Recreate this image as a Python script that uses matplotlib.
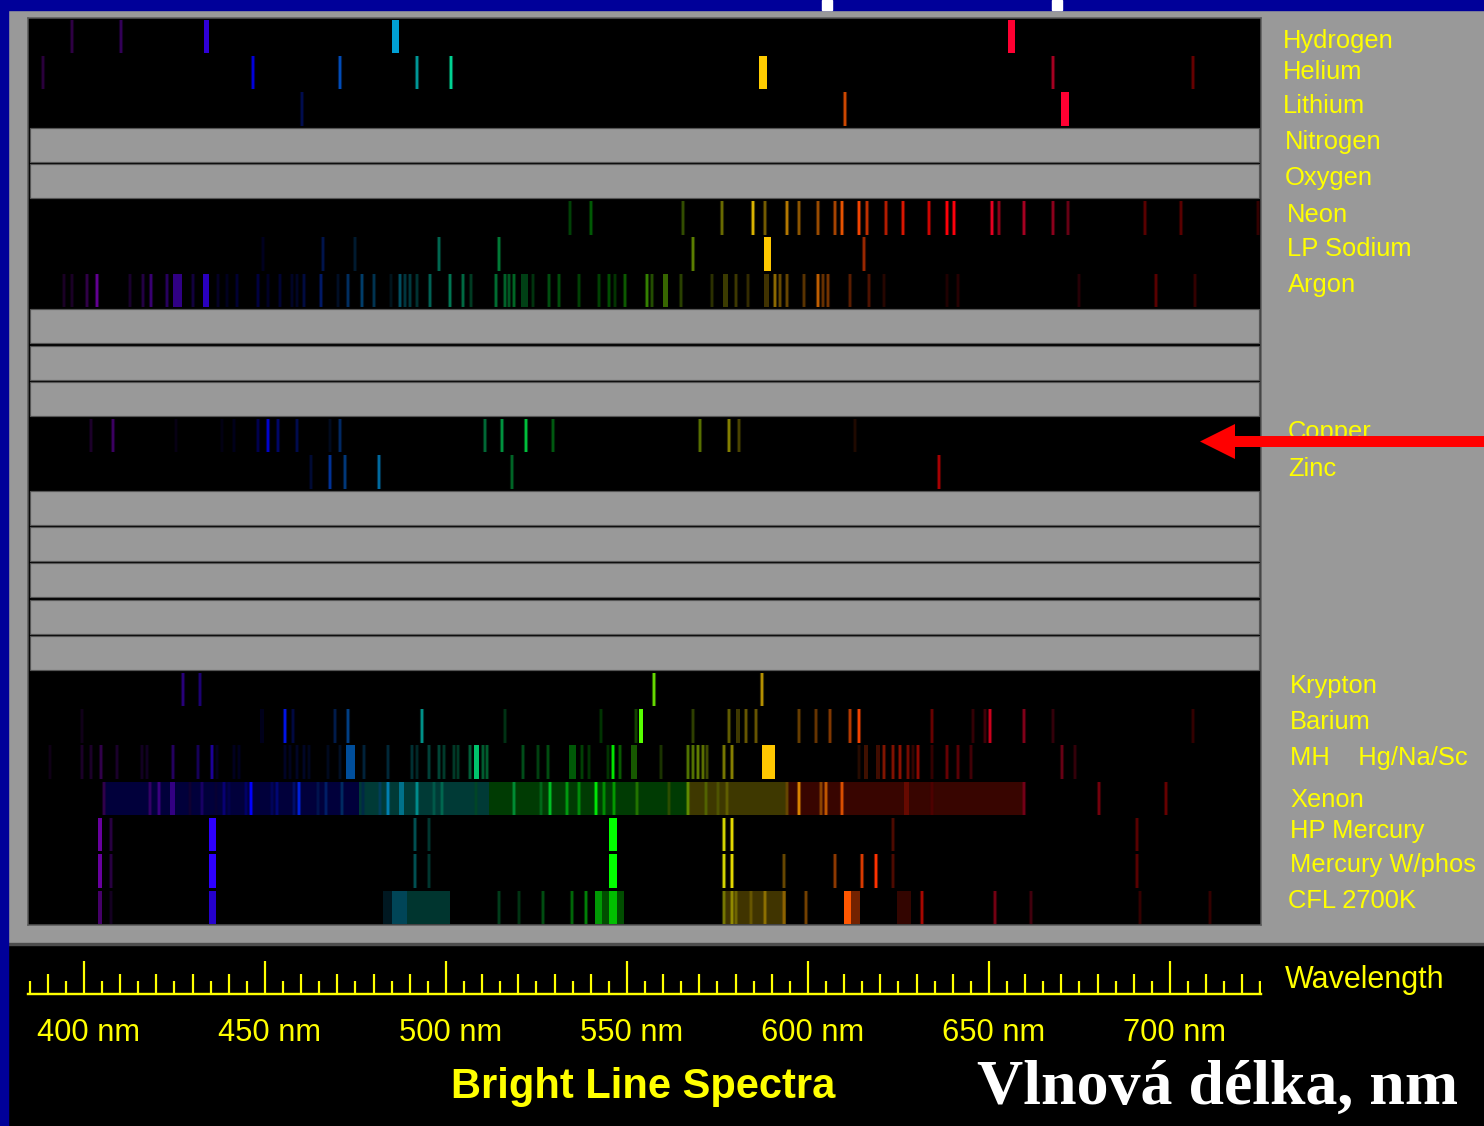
import numpy as np
import matplotlib
matplotlib.use("Agg")
import matplotlib.pyplot as plt
from matplotlib.patches import FancyArrow, Rectangle
from matplotlib.ticker import FixedLocator
from matplotlib.transforms import ScaledTranslation

W, H = 1484, 1126
DPI = 100

# spectrum rows from top to bottom, "" is an unlabelled empty row
row_names = ["Hydrogen", "Helium", "Lithium", "Nitrogen", "Oxygen", "Neon", "LP Sodium", "Argon",
             "", "", "", "Copper", "Zinc", "", "", "", "", "",
             "Krypton", "Barium", "MH", "Xenon", "HP Mercury", "Mercury W/phos", "CFL 2700K"]

# (wavelength nm, intensity) for thin lines, (from nm, to nm, intensity) for wide ones
hydrogen_lines = [(396.6, .35), (410.1, .4)]
hydrogen_bands = [(433.1, 434.4, .85), (485.0, 487.1, .97), (655.3, 657.2, 1)]
helium_lines = [(388.6, .35), (446.7, .85), (470.7, .75), (492.0, .75), (501.4, .9), (667.6, .65), (706.3, .4)]
helium_bands = [(586.5, 588.6, 1)]
lithium_lines = [(460.1, .3), (610.2, .8)]
lithium_bands = [(670.0, 672.0, 1)]
neon_lines = [(534.2, .25), (540.1, .35), (565.4, .3), (576.2, .45), (584.8, .85), (588.1, .45), (594.2, .7),
              (597.5, .55), (602.9, .6), (607.5, .65), (609.5, .9), (614.1, .95), (616.2, .75), (621.6, .7),
              (626.2, .85), (633.5, .8), (638.3, 1), (640.2, 1), (650.9, .9), (652.9, .55), (659.6, .65),
              (667.6, .55), (671.7, .4), (693.0, .35), (703.0, .35), (724.3, .2)]
sodium_lines = [(449.4, .12), (466.1, .3), (474.9, .2), (498.1, .45), (514.7, .5), (568.1, .5), (615.5, .6)]
sodium_bands = [(587.9, 589.8, 1)]
argon_lines = [(394.6, .2), (396.6, .2), (400.7, .35), (403.7, .7), (412.7, .2), (416.4, .3), (418.4, .5),
               (423.0, .4), (430.0, .25), (437.0, .15), (439.5, .12), (442.3, .2), (448.1, .25), (450.8, .15),
               (454.1, .2), (457.4, .15), (458.8, .15), (460.8, .25), (465.4, .4), (470.2, .15), (472.9, .4),
               (476.8, .45), (480.1, .35), (484.8, .12), (487.4, .45), (488.8, .3), (490.1, .3), (492.1, .25),
               (495.6, .45), (501.1, .5), (504.8, .45), (506.8, .25), (513.7, .45), (516.2, .4), (517.4, .35),
               (518.8, .4), (524.0, .2), (528.5, .3), (531.2, .3), (536.8, .25), (542.2, .25), (545.1, .3),
               (546.8, .2), (549.4, .35), (555.5, .5), (556.9, .3), (564.9, .25), (573.4, .2), (580.2, .25),
               (583.5, .2), (590.8, .55), (592.2, .4), (594.2, .4), (598.8, .35), (602.9, .75), (604.2, .4),
               (605.5, .45), (611.6, .35), (616.9, .3), (620.9, .15), (638.3, .12), (641.5, .15), (674.9, .15),
               (696.2, .35), (707.0, .2)]
argon_bands = [(424.5, 427.0, .55), (432.8, 434.4, .75), (520.6, 522.6, .25), (560.0, 561.3, .4),
               (576.5, 577.8, .25), (587.9, 589.2, .25)]
copper_lines = [(402.0, .2), (408.0, .45), (425.3, .08), (438.0, .07), (441.4, .1), (448.1, .3), (450.8, .8),
                (453.6, .4), (458.8, .3), (468.0, .12), (470.6, .4), (510.7, .45), (515.5, .6), (522.1, .75),
                (529.5, .35), (570.1, .45), (578.1, .55), (580.9, .3), (612.9, .12)]
zinc_lines = [(462.7, .2), (468.0, .6), (472.1, .5), (481.4, .7), (518.1, .4), (636.2, .65)]
krypton_lines = [(427.4, .5), (432.1, .45), (557.4, .85), (587.4, .7)]
barium_lines = [(399.4, .12), (455.5, .9), (457.8, .25), (469.4, .3), (472.8, .55), (493.4, .7), (516.2, .2),
                (542.8, .2), (552.5, .25), (568.1, .25), (578.2, .4), (582.9, .4), (585.5, .4), (597.5, .4),
                (602.2, .4), (606.1, .5), (611.6, .7), (614.1, .95), (634.2, .4), (645.6, .2), (649.0, .25),
                (650.2, .8), (659.6, .5), (667.6, .2), (706.3, .2)]
barium_bands = [(448.6, 449.8, .1), (553.2, 554.5, 1), (580.0, 581.2, .25)]
mh_lines = [(390.7, .12), (399.4, .2), (402.0, .2), (404.6, .35), (409.0, .2), (416.0, .15), (417.4, .15),
            (424.7, .4), (431.6, .35), (435.3, .6), (436.7, .12), (441.3, .12), (442.8, .12), (455.5, .15),
            (456.9, .12), (458.9, .15), (460.8, .15), (462.2, .12), (467.3, .12), (470.7, .15), (477.4, .25),
            (484.0, .25), (490.7, .25), (492.1, .2), (495.4, .3), (498.1, .3), (499.5, .25), (502.1, .25),
            (503.4, .25), (506.5, .4), (510.1, .4), (511.4, .4), (521.2, .3), (525.5, .25), (528.2, .3),
            (537.5, .25), (539.5, .2), (544.8, .2), (546.2, .9), (548.2, .35), (559.5, .2), (566.8, .45),
            (568.1, .45), (569.5, .5), (570.9, .45), (572.0, .3), (576.8, .5), (578.9, .55), (614.1, .15),
            (620.9, .5), (623.6, .5), (625.4, .55), (627.6, .45), (628.9, .2), (630.3, .55), (634.3, .2),
            (638.3, .4), (641.5, .35), (644.9, .25), (670.3, .4), (673.7, .2)]
mh_bands = [(472.5, 474.8, .65), (507.8, 509.2, .85), (534.0, 535.8, .35), (551.1, 552.7, .35),
            (587.4, 591.0, 1), (615.4, 616.5, .25), (618.7, 619.8, .25)]
xenon_bands = [(405.4, 476.0, .23), (476.0, 512.0, .28), (512.0, 566.6, .23), (566.6, 594.4, .25),
               (594.4, 660.0, .22), (423.7, 425.1, .55), (487.1, 488.4, .65), (626.6, 628.0, .4)]
xenon_lines = [(405.4, .35), (418.1, .45), (420.7, .55), (429.2, .2), (432.6, .4), (436.6, .2), (438.7, .45),
               (440.0, .3), (444.8, .4), (446.0, 1), (452.0, .35), (453.4, .45), (458.1, .4), (459.4, .85),
               (464.7, .3), (466.8, .4), (471.4, .4), (477.2, .3), (481.7, .4), (484.0, .8), (492.1, .7),
               (496.8, .4), (498.8, .45), (508.2, .3), (518.8, .55), (526.2, .4), (528.8, .75), (533.4, .6),
               (536.8, .55), (541.5, .9), (543.6, .55), (546.5, .6), (552.7, .45), (561.5, .3), (566.8, .55),
               (571.9, .4), (575.1, .35), (577.5, .4), (594.2, .4), (597.5, .85), (603.6, .55), (604.9, .75),
               (609.5, .85), (634.2, .3), (659.6, .45), (680.3, .45), (699.0, .4)]
mercury_lines = [(407.4, .3), (491.5, .4), (495.4, .25), (576.8, .9), (578.9, .95), (623.5, .3), (690.9, .35)]
mercury_bands = [(403.9, 405.0, .75), (434.4, 436.4, 1), (545.1, 547.2, 1)]
mercury_phos_lines = mercury_lines + [(593.5, .4), (607.5, .55), (614.9, .85), (618.9, 1)]
cfl_lines = [(407.4, .15), (514.7, .25), (520.1, .2), (526.8, .3), (534.9, .4), (538.8, .5), (576.8, .5),
             (578.9, .6), (580.2, .45), (584.2, .4), (588.2, .55), (593.5, .55), (599.5, .45), (631.5, .65),
             (651.6, .45), (661.6, .25), (691.6, .2), (711.0, .2)]
cfl_bands = [(403.9, 405.0, .5), (434.4, 436.4, .8), (482.6, 485.0, .15), (485.0, 489.2, .4), (489.2, 501.1, .25),
             (543.2, 549.3, .3), (541.2, 543.2, .6), (545.1, 547.2, .75), (576.5, 593.9, .25),
             (609.9, 611.9, 1), (611.9, 614.5, .45), (624.6, 628.5, .2)]

spectra_lines = {"Hydrogen": hydrogen_lines, "Helium": helium_lines, "Lithium": lithium_lines, "Neon": neon_lines,
                 "LP Sodium": sodium_lines, "Argon": argon_lines, "Copper": copper_lines, "Zinc": zinc_lines,
                 "Krypton": krypton_lines, "Barium": barium_lines, "MH": mh_lines, "Xenon": xenon_lines,
                 "HP Mercury": mercury_lines, "Mercury W/phos": mercury_phos_lines, "CFL 2700K": cfl_lines}
spectra_bands = {"Hydrogen": hydrogen_bands, "Helium": helium_bands, "Lithium": lithium_bands,
                 "LP Sodium": sodium_bands, "Argon": argon_bands, "Barium": barium_bands, "MH": mh_bands,
                 "Xenon": xenon_bands, "HP Mercury": mercury_bands, "Mercury W/phos": mercury_bands,
                 "CFL 2700K": cfl_bands}

# colour of a line at full intensity
hue_nm = [380, 404, 420, 435, 440, 450, 465, 475, 486, 492, 500, 510, 520, 535, 546, 556, 566, 577, 583, 589, 600,
          610, 620, 635, 656, 672, 690, 730]
hue_r = [110, 140, 110, 50, 5, 0, 0, 0, 0, 0, 0, 0, 0, 0, 0, 110, 170, 235, 255, 255, 255, 255, 255, 255, 255, 255,
         255, 255]
hue_g = [0, 0, 0, 0, 0, 0, 60, 130, 165, 200, 235, 230, 255, 255, 255, 255, 255, 235, 215, 200, 140, 90, 45, 0, 0,
         0, 0, 0]
hue_b = [150, 210, 230, 255, 255, 255, 255, 235, 220, 200, 170, 120, 90, 20, 0, 0, 0, 0, 0, 0, 0, 0, 0, 0, 50, 50,
         0, 0]

tick_nm = [400, 450, 500, 550, 600, 650, 700]
tick_labels = ["400 nm", "450 nm", "500 nm", "550 nm", "600 nm", "650 nm", "700 nm"]

# where the labels sit: x, baseline y in pixels
label_pos = {"Hydrogen": (1283, 48), "Helium": (1283, 79), "Lithium": (1283, 113), "Nitrogen": (1285, 149),
             "Oxygen": (1285, 185), "Neon": (1287, 222), "LP Sodium": (1287, 256), "Argon": (1288, 292),
             "Zinc": (1288, 476), "Krypton": (1290, 693), "Barium": (1290, 729), "Xenon": (1290, 807),
             "HP Mercury": (1290, 838), "Mercury W/phos": (1290, 872), "CFL 2700K": (1288, 908)}


def pixel_box(x0, y0, x1, y1):
    return [x0 / W, 1 - y1 / H, (x1 - x0) / W, (y1 - y0) / H]


def nm_at(px):
    return 400 + (px - 84) / 3.62


def line_colour(nm, intensity):
    rgb = [np.interp(nm, hue_nm, c) / 255 * intensity for c in (hue_r, hue_g, hue_b)]
    return tuple(rgb)


def px_pt(px):
    return px * 72 / DPI


fig = plt.figure(figsize=(W / DPI, H / DPI), dpi=DPI, facecolor="#999999")

# slide background, in pixel coordinates
bg = fig.add_axes([0, 0, 1, 1], zorder=0)
bg.set_xlim(0, W)
bg.set_ylim(H, 0)
bg.axis("off")
bg.add_patch(Rectangle((0, 945), W, H - 945, color="black"))
bg.add_patch(Rectangle((0, 943), W, 2, color="#4d4d4d"))
bg.add_patch(Rectangle((0, 0), 8, H, color="#000099"))
bg.add_patch(Rectangle((0, 0), W, 10, color="#000099"))
bg.add_patch(Rectangle((822, 0), 10, 10, color="white"))
bg.add_patch(Rectangle((1052, 0), 10, 10, color="white"))

# spectra
ax = fig.add_axes(pixel_box(28, 18, 1261, 925), zorder=1, facecolor="black")
ax.set_xlim(nm_at(28), nm_at(1261))
ax.set_ylim(len(row_names), 0)
ax.set_xticks([])
ax.set_yticks([])
for s in ax.spines.values():
    s.set_color("#5a5a5a")
    s.set_linewidth(px_pt(1.5))

for row, name in enumerate(row_names):
    if name not in spectra_lines:
        ax.barh(row + 0.5, nm_at(1259) - nm_at(30), height=0.94, left=nm_at(30), color="#999999",
                edgecolor="#555555", linewidth=px_pt(1.2))
        continue
    for start, end, level in spectra_bands.get(name, []):
        ax.bar((start + end) / 2, 0.92, width=end - start, bottom=row + 0.05,
               color=line_colour((start + end) / 2, level), zorder=2)
    nms = [v[0] for v in spectra_lines[name]]
    colours = [line_colour(v[0], v[1]) for v in spectra_lines[name]]
    ax.vlines(nms, row + 0.05, row + 0.97, colors=colours, linewidth=px_pt(4.2), alpha=0.35, capstyle="butt", zorder=3)
    ax.vlines(nms, row + 0.05, row + 0.97, colors=colours, linewidth=px_pt(2.4), capstyle="butt", zorder=4)

# wavelength ruler
rul = fig.add_axes(pixel_box(28, 959, 1261, 994), zorder=1)
rul.patch.set_alpha(0)
rul.set_xlim(ax.get_xlim())
rul.set_ylim(0, 35)
rul.set_yticks([])
for side in ("top", "left", "right"):
    rul.spines[side].set_visible(False)
rul.spines["bottom"].set_color("#ffff00")
rul.spines["bottom"].set_linewidth(px_pt(2.4))
rul.xaxis.set_major_locator(FixedLocator(tick_nm))
rul.xaxis.set_minor_locator(FixedLocator([n for n in range(390, 730, 10) if n % 50]))
rul.set_xticklabels(tick_labels, fontfamily="Liberation Sans", fontsize=22.2, color="#ffff00")
rul.tick_params(axis="x", which="major", direction="in", length=px_pt(33), width=px_pt(2.2), color="#ffff00",
                pad=px_pt(24))
rul.tick_params(axis="x", which="minor", direction="in", length=px_pt(20), width=px_pt(2.2), color="#ffff00")
rul.vlines([n for n in range(385, 730, 10)], 0, 13, colors="#ffff00", linewidth=px_pt(2.2), capstyle="butt")
rul.vlines([nm_at(1260)], 0, 13, colors="#ffff00", linewidth=px_pt(2.2), capstyle="butt")
label_shift = ScaledTranslation(4.5 / DPI, 0, fig.dpi_scale_trans)
for lab in rul.get_xticklabels():
    lab.set_transform(lab.get_transform() + label_shift)

# labels and arrow go on top
top = fig.add_axes([0, 0, 1, 1], zorder=5)
top.set_xlim(0, W)
top.set_ylim(H, 0)
top.axis("off")
for name, (x, y) in label_pos.items():
    top.text(x, y, name, fontfamily="Liberation Sans", fontsize=18.4, color="#ffff00", va="baseline")
top.text(1290, 765, "MH    Hg/Na/Sc", fontfamily="Liberation Sans", fontsize=18.4, color="#ffff00", va="baseline")
# the arrow and a grey strip hide the lower part of this label
top.text(1288, 439, "Copper", fontfamily="Liberation Sans", fontsize=18.4, color="#ffff00", va="baseline", zorder=1)
top.add_patch(Rectangle((1270, 436), 214, 16, color="#999999", zorder=2))
top.add_patch(FancyArrow(W, 441.5, 1200 - W, 0, width=11, head_width=35, head_length=35,
                         length_includes_head=True, color="#ff0000", linewidth=0, zorder=3))
top.text(1285, 988, "Wavelength", fontfamily="Liberation Sans", fontsize=22, color="#ffff00", va="baseline")
top.text(643, 1098, "Bright Line Spectra", fontfamily="Liberation Sans", fontsize=30, color="#ffff00",
         fontweight="bold", ha="center", va="baseline")
top.text(977, 1104, "Vlnová délka, nm", fontfamily="Liberation Serif", fontsize=46, color="white",
         fontweight="bold", va="baseline")

fig.savefig("out.png", dpi=DPI)
